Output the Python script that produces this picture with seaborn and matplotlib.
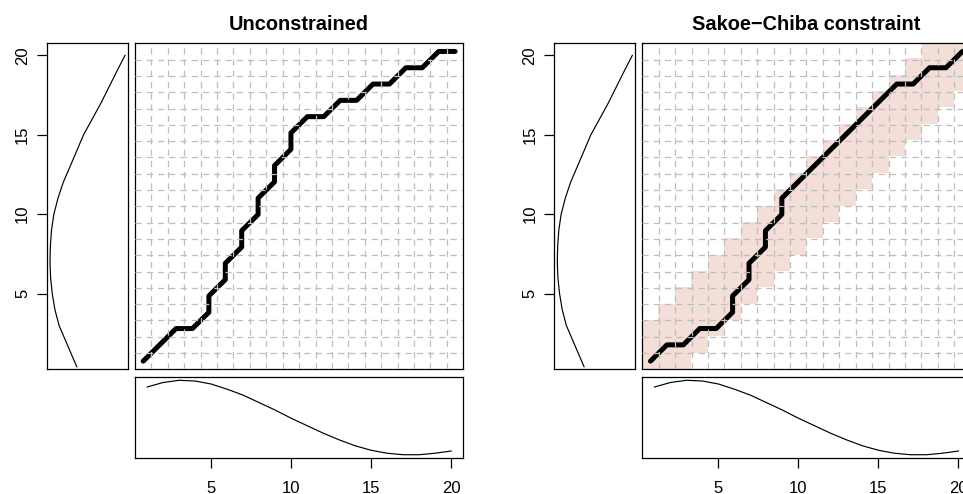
import numpy as np
import matplotlib
matplotlib.use("Agg")
import matplotlib.pyplot as plt
import seaborn as sns
from matplotlib.colors import ListedColormap

plt.rcParams["font.family"] = ["Liberation Sans", "DejaVu Sans"]
plt.rcParams["text.color"] = "black"

# Reference series (drawn under each alignment), one value per index 1..20
ref_index = list(range(1, 21))
ref_values = [0.91, 0.97, 1.00, 0.99, 0.95, 0.88, 0.80, 0.70, 0.60, 0.49,
              0.39, 0.29, 0.20, 0.12, 0.06, 0.02, 0.00, 0.00, 0.02, 0.05]

# Query series (drawn left of each alignment, running upwards)
query_pos = [0.4, 1, 2, 3, 4, 5, 6, 7, 8, 9, 10, 11, 12, 13, 14, 15, 16, 17,
             18, 19, 20]
query_values = [0.355, 0.30, 0.21, 0.12, 0.065, 0.030, 0.008, 0.000, 0.005,
                0.020, 0.051, 0.105, 0.175, 0.265, 0.355, 0.444, 0.560, 0.675,
                0.780, 0.885, 0.993]

# Warping paths: reference index (x) against query index (y)
uncon_ref = [1, 2, 3, 4, 5, 5, 6, 6, 7, 7, 8, 8, 9, 9, 10, 10, 11, 12, 13,
             14, 15, 16, 17, 18, 19, 20]
uncon_query = [1, 2, 3, 3, 4, 5, 6, 7, 8, 9, 10, 11, 12, 13, 14, 15, 16, 16,
               17, 17, 18, 18, 19, 19, 20, 20]
sakoe_ref = [1, 2, 3, 4, 5, 6, 6, 7, 7, 8, 8, 9, 9, 10, 11, 12, 13, 14, 15,
             16, 17, 18, 19, 20]
sakoe_query = [1, 2, 2, 3, 3, 4, 5, 6, 7, 8, 9, 10, 11, 12, 13, 14, 15, 16,
               17, 18, 18, 19, 19, 20]
sakoe_radius = 2

tick_values = [5, 10, 15, 20]
titles = ["Unconstrained", "Sakoe\u2212Chiba constraint"]

W, H = 963, 494
fig = plt.figure(figsize=(W / 100, H / 100), dpi=100)


def rect(x0, y0, x1, y1):
    return [x0 / W, 1 - y1 / H, (x1 - x0) / W, (y1 - y0) / H]


def padded(lo, hi, frac=0.04):
    d = (hi - lo) * frac
    return lo - d, hi + d


def frame(ax):
    for s in ax.spines.values():
        s.set_visible(True)
        s.set_color("black")
        s.set_linewidth(0.9)
    ax.set_xlabel("")
    ax.set_ylabel("")


n = len(ref_index)
idx_lim = padded(1, n)
pink = "#F3DED8"
grid_grey = "#BEBEBE"


def draw_block(dx, path_x, path_y, title, radius=None):
    # query panel on the left
    ax_q = fig.add_axes(rect(47 + dx, 43.3, 128 + dx, 369.3))
    sns.lineplot(x=query_values, y=query_pos, sort=False, estimator=None,
                 color="black", linewidth=0.85, ax=ax_q)
    ax_q.set_xlim(*padded(min(query_values), max(query_values)))
    ax_q.set_ylim(*idx_lim)
    frame(ax_q)
    ax_q.set_xticks([])
    ax_q.set_yticks(tick_values)
    ax_q.set_yticklabels([str(t) for t in tick_values], rotation=90, va="center")
    ax_q.tick_params(axis="y", which="major", direction="out", length=7.2,
                     width=0.9, labelsize=12, pad=5, left=True,
                     color="black", labelcolor="black")

    # alignment panel
    ax_m = fig.add_axes(rect(135 + dx, 43.3, 463.3 + dx, 369.3))
    ax_m.set_xlim(0.5, n + 0.5)
    ax_m.set_ylim(0.5, n + 0.5)
    if radius is not None:
        ii, jj = np.meshgrid(np.arange(1, n + 1), np.arange(1, n + 1))
        band = (np.abs(ii - jj) <= radius).astype(float)
        band = np.ma.masked_where(band == 0, band)
        ax_m.imshow(band, origin="lower", extent=(0.5, n + 0.5, 0.5, n + 0.5),
                    cmap=ListedColormap([pink]), aspect="auto",
                    interpolation="nearest", zorder=1)
    sns.lineplot(x=path_x, y=path_y, sort=False, estimator=None, color="black",
                 linewidth=3.6, solid_capstyle="round", solid_joinstyle="round",
                 ax=ax_m, zorder=2)
    for g in np.arange(1.5, n, 1.0):
        ax_m.axvline(g, color=grid_grey, linewidth=0.9, linestyle=(0, (5, 4)), zorder=3)
        ax_m.axhline(g, color=grid_grey, linewidth=0.9, linestyle=(0, (5, 4)), zorder=3)
    frame(ax_m)
    ax_m.set_xticks([])
    ax_m.set_yticks([])
    ax_m.set_title(title, fontsize=14.4, fontweight="bold", pad=9.5, color="black")

    # reference panel below
    ax_r = fig.add_axes(rect(135 + dx, 377.3, 463.3 + dx, 457.7))
    sns.lineplot(x=ref_index, y=ref_values, color="black", linewidth=0.85, ax=ax_r)
    ax_r.set_xlim(*idx_lim)
    ax_r.set_ylim(*padded(min(ref_values), max(ref_values)))
    frame(ax_r)
    ax_r.set_yticks([])
    ax_r.set_xticks(tick_values)
    ax_r.set_xticklabels([str(t) for t in tick_values])
    ax_r.tick_params(axis="x", which="major", direction="out", length=7.2,
                     width=0.9, labelsize=12, pad=9.5, bottom=True,
                     color="black", labelcolor="black")


draw_block(0, uncon_ref, uncon_query, titles[0])
draw_block(507.3, sakoe_ref, sakoe_query, titles[1], radius=sakoe_radius)

fig.savefig("out.png", dpi=100)
